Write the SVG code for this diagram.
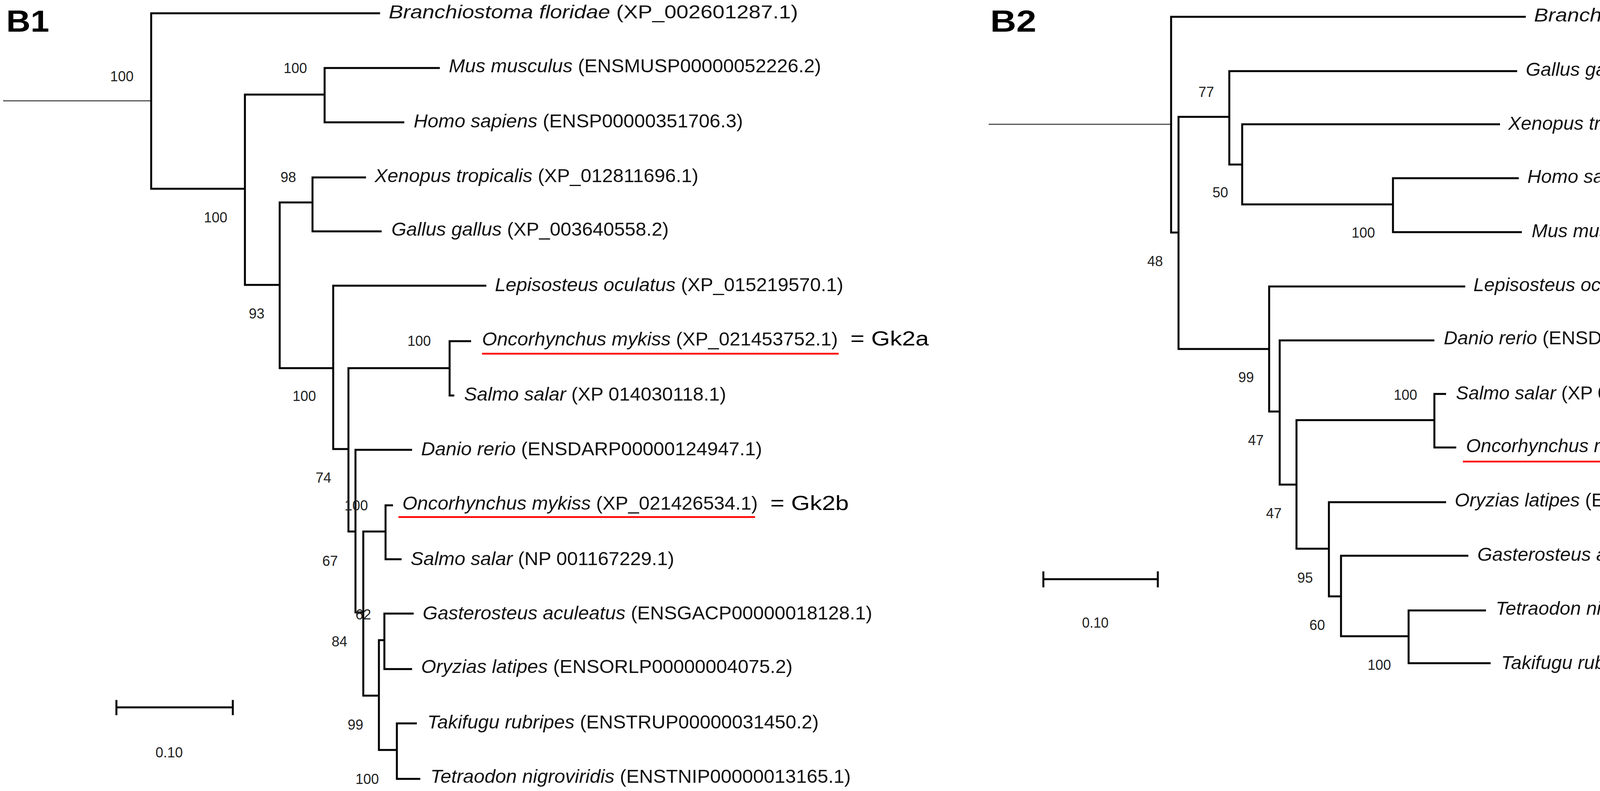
<svg xmlns="http://www.w3.org/2000/svg" width="4930" height="2024" viewBox="0 0 4930 2024">
<style>
  .edge{fill:none;stroke:#000;stroke-width:5;stroke-linejoin:miter;stroke-linecap:butt}
  .rootl{fill:none;stroke:#333;stroke-width:2.5}
  .lf{font-family:"Liberation Sans",Arial,sans-serif;font-size:48px;fill:#111}
  .it{font-style:italic}
  .bs{font-family:"Liberation Sans",Arial,sans-serif;font-size:36px;fill:#222}
  .pn{font-family:"Liberation Sans",Arial,sans-serif;font-size:77px;font-weight:bold;fill:#000}
  .gk{font-family:"Liberation Sans",Arial,sans-serif;font-size:52px;fill:#000}
  .ul{stroke:#ff0000;stroke-width:4.5;fill:none}
</style>
<rect width="4930" height="2024" fill="#fff"/>

<g id="panel-labels">
  <text id="label-B1" class="pn" x="16" y="81" textLength="110" lengthAdjust="spacingAndGlyphs">B1</text>
  <text id="label-B2" class="pn" x="2535" y="81" textLength="118" lengthAdjust="spacingAndGlyphs">B2</text>
</g>

<g id="connectors">
  <g id="tree-B1">
    <path class="rootl" d="M8 258 H387"/>
    <path class="edge" d="M973 34 H387 V483 H627"/>
    <path class="edge" d="M831 242 H627 V729 H716"/>
    <path class="edge" d="M1126 174 H831 V313 H1035"/>
    <path class="edge" d="M800 518 H716 V942 H853"/>
    <path class="edge" d="M937 454 H800 V592 H977"/>
    <path class="edge" d="M1245 731 H853 V1149 H892"/>
    <path class="edge" d="M1151 942 H892 V1360 H910"/>
    <path class="edge" d="M1206 873 H1151 V1012 H1163"/>
    <path class="edge" d="M1055 1151 H910 V1567 H930"/>
    <path class="edge" d="M987 1360 H930 V1780 H970"/>
    <path class="edge" d="M1006 1293 H987 V1431 H1028"/>
    <path class="edge" d="M984 1638 H970 V1919 H1016"/>
    <path class="edge" d="M1059 1570 H984 V1712 H1055"/>
    <path class="edge" d="M1067 1851 H1016 V1993 H1076"/>
  </g>
  <g id="tree-B2">
    <path class="rootl" d="M2531 318 H2998"/>
    <path class="edge" d="M3906 43 H2998 V595 H3017"/>
    <path class="edge" d="M3147 299 H3017 V893 H3249"/>
    <path class="edge" d="M3884 182 H3147 V421 H3180"/>
    <path class="edge" d="M3840 318 H3180 V523 H3566"/>
    <path class="edge" d="M3888 456 H3566 V594 H3896"/>
    <path class="edge" d="M3751 733 H3249 V1053 H3276"/>
    <path class="edge" d="M3672 871 H3276 V1240 H3319"/>
    <path class="edge" d="M3672 1075 H3319 V1404 H3402"/>
    <path class="edge" d="M3702 1008 H3672 V1145 H3728"/>
    <path class="edge" d="M3702 1285 H3402 V1526 H3433"/>
    <path class="edge" d="M3759 1422 H3433 V1628 H3606"/>
    <path class="edge" d="M3804 1562 H3606 V1697 H3816"/>
  </g>
</g>

<g id="scalebars">
  <g id="scale-B1">
    <path class="edge" d="M298 1810 H596 M298 1791 V1830 M596 1791 V1830"/>
    <text class="bs" x="398" y="1938" textLength="70" lengthAdjust="spacingAndGlyphs">0.10</text>
  </g>
  <g id="scale-B2">
    <path class="edge" d="M2671 1482 H2964 M2671 1462 V1503 M2964 1462 V1503"/>
    <text class="bs" x="2770" y="1606" textLength="68" lengthAdjust="spacingAndGlyphs">0.10</text>
  </g>
</g>

<g id="bootstrap-B1">
  <text class="bs" x="282" y="208">100</text>
  <text class="bs" x="726" y="187">100</text>
  <text class="bs" x="718" y="466">98</text>
  <text class="bs" x="522" y="569">100</text>
  <text class="bs" x="637" y="815">93</text>
  <text class="bs" x="1043" y="885">100</text>
  <text class="bs" x="749" y="1026">100</text>
  <text class="bs" x="808" y="1235">74</text>
  <text class="bs" x="882" y="1306">100</text>
  <text class="bs" x="825" y="1448">67</text>
  <text class="bs" x="910" y="1585">62</text>
  <text class="bs" x="849" y="1654">84</text>
  <text class="bs" x="890" y="1867">99</text>
  <text class="bs" x="910" y="2006">100</text>
</g>

<g id="bootstrap-B2">
  <text class="bs" x="3068" y="248">77</text>
  <text class="bs" x="3104" y="505">50</text>
  <text class="bs" x="3460" y="608">100</text>
  <text class="bs" x="2937" y="681">48</text>
  <text class="bs" x="3170" y="978">99</text>
  <text class="bs" x="3568" y="1023">100</text>
  <text class="bs" x="3195" y="1139">47</text>
  <text class="bs" x="3241" y="1326">47</text>
  <text class="bs" x="3321" y="1491">95</text>
  <text class="bs" x="3352" y="1612">60</text>
  <text class="bs" x="3501" y="1714">100</text>
</g>

<g id="leaves-B1">
  <g id="b1-branchiostoma"><text class="lf" x="995" y="47" textLength="1048" lengthAdjust="spacingAndGlyphs"><tspan class="it">Branchiostoma floridae</tspan> (XP_002601287.1)</text></g>
  <g id="b1-mus"><text class="lf" x="1149" y="185" textLength="953" lengthAdjust="spacingAndGlyphs"><tspan class="it">Mus musculus</tspan> (ENSMUSP00000052226.2)</text></g>
  <g id="b1-homo"><text class="lf" x="1059" y="326" textLength="843" lengthAdjust="spacingAndGlyphs"><tspan class="it">Homo sapiens</tspan> (ENSP00000351706.3)</text></g>
  <g id="b1-xenopus"><text class="lf" x="959" y="466" textLength="829" lengthAdjust="spacingAndGlyphs"><tspan class="it">Xenopus tropicalis</tspan> (XP_012811696.1)</text></g>
  <g id="b1-gallus"><text class="lf" x="1002" y="603" textLength="710" lengthAdjust="spacingAndGlyphs"><tspan class="it">Gallus gallus</tspan> (XP_003640558.2)</text></g>
  <g id="b1-lepisosteus"><text class="lf" x="1267" y="745" textLength="892" lengthAdjust="spacingAndGlyphs"><tspan class="it">Lepisosteus oculatus</tspan> (XP_015219570.1)</text></g>
  <g id="b1-oncorhynchus-a">
    <text class="lf" x="1234" y="884" textLength="911" lengthAdjust="spacingAndGlyphs"><tspan class="it">Oncorhynchus mykiss</tspan> (XP_021453752.1)</text>
    <path class="ul" d="M1234 905 H2147"/>
    <text class="gk" x="2177" y="884" textLength="201" lengthAdjust="spacingAndGlyphs">= Gk2a</text>
  </g>
  <g id="b1-salmo-a"><text class="lf" x="1188" y="1025" textLength="671" lengthAdjust="spacingAndGlyphs"><tspan class="it">Salmo salar</tspan> (XP 014030118.1)</text></g>
  <g id="b1-danio"><text class="lf" x="1078" y="1165" textLength="873" lengthAdjust="spacingAndGlyphs"><tspan class="it">Danio rerio</tspan> (ENSDARP00000124947.1)</text></g>
  <g id="b1-oncorhynchus-b">
    <text class="lf" x="1030" y="1304" textLength="910" lengthAdjust="spacingAndGlyphs"><tspan class="it">Oncorhynchus mykiss</tspan> (XP_021426534.1)</text>
    <path class="ul" d="M1020 1323 H1933"/>
    <text class="gk" x="1972" y="1305" textLength="201" lengthAdjust="spacingAndGlyphs">= Gk2b</text>
  </g>
  <g id="b1-salmo-b"><text class="lf" x="1051" y="1446" textLength="675" lengthAdjust="spacingAndGlyphs"><tspan class="it">Salmo salar</tspan> (NP 001167229.1)</text></g>
  <g id="b1-gasterosteus"><text class="lf" x="1082" y="1585" textLength="1151" lengthAdjust="spacingAndGlyphs"><tspan class="it">Gasterosteus aculeatus</tspan> (ENSGACP00000018128.1)</text></g>
  <g id="b1-oryzias"><text class="lf" x="1078" y="1722" textLength="951" lengthAdjust="spacingAndGlyphs"><tspan class="it">Oryzias latipes</tspan> (ENSORLP00000004075.2)</text></g>
  <g id="b1-takifugu"><text class="lf" x="1094" y="1864" textLength="1002" lengthAdjust="spacingAndGlyphs"><tspan class="it">Takifugu rubripes</tspan> (ENSTRUP00000031450.2)</text></g>
  <g id="b1-tetraodon"><text class="lf" x="1102" y="2003" textLength="1076" lengthAdjust="spacingAndGlyphs"><tspan class="it">Tetraodon nigroviridis</tspan> (ENSTNIP00000013165.1)</text></g>
</g>

<g id="leaves-B2">
  <g id="b2-branchiostoma"><text class="lf" x="3927" y="55" textLength="989" lengthAdjust="spacingAndGlyphs"><tspan class="it">Branchiostoma floridae</tspan> (XP_002593063)</text></g>
  <g id="b2-gallus"><text class="lf" x="3906" y="194" textLength="896" lengthAdjust="spacingAndGlyphs"><tspan class="it">Gallus gallus</tspan> (ENSGALP00000048645.1)</text></g>
  <g id="b2-xenopus"><text class="lf" x="3861" y="332" textLength="823" lengthAdjust="spacingAndGlyphs"><tspan class="it">Xenopus tropicalis</tspan> (XP_004917888.1)</text></g>
  <g id="b2-homo"><text class="lf" x="3910" y="468" textLength="832" lengthAdjust="spacingAndGlyphs"><tspan class="it">Homo sapiens</tspan> (ENSP00000418001.1)</text></g>
  <g id="b2-mus"><text class="lf" x="3921" y="607" textLength="938" lengthAdjust="spacingAndGlyphs"><tspan class="it">Mus musculus</tspan> (ENSMUSP00000082313.5)</text></g>
  <g id="b2-lepisosteus"><text class="lf" x="3772" y="745" textLength="1075" lengthAdjust="spacingAndGlyphs"><tspan class="it">Lepisosteus oculatus</tspan> (ENSLOCP00000009710.1)</text></g>
  <g id="b2-danio"><text class="lf" x="3696" y="881" textLength="861" lengthAdjust="spacingAndGlyphs"><tspan class="it">Danio rerio</tspan> (ENSDARP00000085784.4)</text></g>
  <g id="b2-salmo"><text class="lf" x="3727" y="1022" textLength="663" lengthAdjust="spacingAndGlyphs"><tspan class="it">Salmo salar</tspan> (XP 014044707.1)</text></g>
  <g id="b2-oncorhynchus">
    <text class="lf" x="3753" y="1157" textLength="898" lengthAdjust="spacingAndGlyphs"><tspan class="it">Oncorhynchus mykiss</tspan> (XP_021445700.1)</text>
    <path class="ul" d="M3745 1181 H4649"/>
  </g>
  <g id="b2-oryzias"><text class="lf" x="3724" y="1296" textLength="939" lengthAdjust="spacingAndGlyphs"><tspan class="it">Oryzias latipes</tspan> (ENSORLP00000005894.2)</text></g>
  <g id="b2-gasterosteus"><text class="lf" x="3782" y="1435" textLength="1138" lengthAdjust="spacingAndGlyphs"><tspan class="it">Gasterosteus aculeatus</tspan> (ENSGACP00000020799.1)</text></g>
  <g id="b2-tetraodon"><text class="lf" x="3829" y="1573" textLength="1062" lengthAdjust="spacingAndGlyphs"><tspan class="it">Tetraodon nigroviridis</tspan> (ENSTNIP00000010660.1)</text></g>
  <g id="b2-takifugu"><text class="lf" x="3843" y="1712" textLength="990" lengthAdjust="spacingAndGlyphs"><tspan class="it">Takifugu rubripes</tspan> (ENSTRUP00000063206.1)</text></g>
</g>
</svg>
